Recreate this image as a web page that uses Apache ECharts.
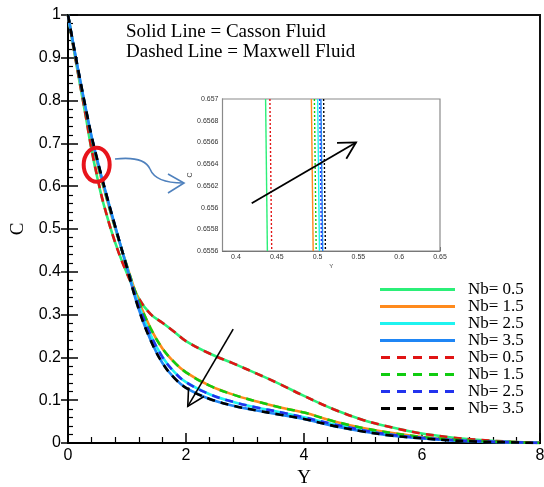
<!DOCTYPE html>
<html>
<head>
<meta charset="utf-8">
<script src="https://cdn.jsdelivr.net/npm/echarts@6/dist/echarts.min.js"></script>
<style>
  html, body { margin: 0; padding: 0; background: #fff; }
  #chart { width: 544px; height: 487px; }
</style>
</head>
<body>
<div id="chart"></div>
<script>
// Similarity variable Y shared by all concentration profiles
const yGrid = [0, 0.1, 0.2, 0.3, 0.4, 0.5, 0.6, 0.8, 1.0, 1.2, 1.4, 1.6, 1.8, 2.0, 2.4, 2.8, 3.2, 3.6, 4.0, 4.5, 5.0, 5.5, 6.0, 6.5, 7.0, 7.5, 8.0];

// Concentration C(Y), Casson fluid (solid lines)
const cassonNb05 = [1, 0.918, 0.840, 0.764, 0.684, 0.618, 0.560, 0.468, 0.396, 0.338, 0.301, 0.281, 0.260, 0.238, 0.209, 0.186, 0.162, 0.137, 0.110, 0.079, 0.054, 0.036, 0.022, 0.013, 0.007, 0.003, 0.0005];
const cassonNb15 = [1, 0.922, 0.848, 0.777, 0.711, 0.652, 0.599, 0.502, 0.413, 0.331, 0.268, 0.221, 0.189, 0.165, 0.134, 0.113, 0.097, 0.083, 0.071, 0.051, 0.035, 0.023, 0.014, 0.008, 0.004, 0.002, 0];
const cassonNb25 = [1, 0.924, 0.850, 0.780, 0.714, 0.657, 0.604, 0.505, 0.411, 0.322, 0.253, 0.201, 0.166, 0.142, 0.114, 0.096, 0.083, 0.072, 0.060, 0.044, 0.030, 0.019, 0.012, 0.007, 0.004, 0.002, 0];
const cassonNb35 = [1, 0.925, 0.852, 0.782, 0.716, 0.659, 0.606, 0.506, 0.409, 0.312, 0.240, 0.187, 0.152, 0.129, 0.103, 0.087, 0.076, 0.066, 0.056, 0.040, 0.027, 0.017, 0.011, 0.006, 0.003, 0.0015, 0];

// Concentration C(Y), Maxwell fluid (dashed lines)
const maxwellNb05 = [1, 0.918, 0.841, 0.765, 0.686, 0.620, 0.561, 0.468, 0.396, 0.338, 0.301, 0.281, 0.260, 0.238, 0.209, 0.186, 0.162, 0.137, 0.110, 0.079, 0.054, 0.036, 0.022, 0.013, 0.007, 0.003, 0.0005];
const maxwellNb15 = [1, 0.922, 0.849, 0.778, 0.712, 0.654, 0.600, 0.502, 0.413, 0.331, 0.268, 0.221, 0.189, 0.165, 0.134, 0.113, 0.097, 0.083, 0.071, 0.051, 0.035, 0.023, 0.014, 0.008, 0.004, 0.002, 0];
const maxwellNb25 = [1, 0.924, 0.851, 0.781, 0.715, 0.6585, 0.605, 0.505, 0.411, 0.322, 0.253, 0.201, 0.166, 0.142, 0.114, 0.096, 0.083, 0.072, 0.060, 0.044, 0.030, 0.019, 0.012, 0.007, 0.004, 0.002, 0];
const maxwellNb35 = [1, 0.925, 0.853, 0.783, 0.717, 0.661, 0.607, 0.506, 0.409, 0.312, 0.240, 0.187, 0.152, 0.129, 0.103, 0.087, 0.076, 0.066, 0.056, 0.040, 0.027, 0.017, 0.011, 0.006, 0.003, 0.0015, 0];

// Magnified window: Y where each profile passes C = insetC[0] and C = insetC[1]
const insetC = [0.657, 0.6556];
const insetCassonNb05 = [0.4363, 0.4385];
const insetCassonNb15 = [0.4924, 0.4946];
const insetCassonNb25 = [0.5001, 0.5023];
const insetCassonNb35 = [0.5041, 0.5063];
const insetMaxwellNb05 = [0.4416, 0.4438];
const insetMaxwellNb15 = [0.4961, 0.4983];
const insetMaxwellNb25 = [0.5026, 0.5048];
const insetMaxwellNb35 = [0.5074, 0.5096];

// Tick values
const nbValues = ['0.5', '1.5', '2.5', '3.5'];
const insetXTicks = [0.4, 0.45, 0.5, 0.55, 0.6, 0.65];
const insetXMinorTicks = [0.39, 0.41, 0.42, 0.43, 0.44, 0.46, 0.47, 0.48, 0.49, 0.51, 0.52, 0.53, 0.54, 0.56, 0.57, 0.58, 0.59, 0.61, 0.62, 0.63, 0.64];
const insetYTicks = [0.6556, 0.6558, 0.656, 0.6562, 0.6564, 0.6566, 0.6568, 0.657];
const insetYMinorTicks = [0.65565, 0.6557, 0.65575, 0.65585, 0.6559, 0.65595, 0.65605, 0.6561, 0.65615, 0.65625, 0.6563, 0.65635, 0.65645, 0.6565, 0.65655, 0.65665, 0.6567, 0.65675, 0.65685, 0.6569, 0.65695];

// Annotation anchors (data coordinates)
const focusCenter = [0.486, 0.65];
const mainArrow = { from: [2.80, 0.266], to: [2.03, 0.0855] };
const insetArrow = { from: [0.4193, 0.65604], to: [0.5471, 0.6566] };

const cassonColors = ['#2bef78', '#ff8a1c', '#1ff3f0', '#1f86f5'];
const maxwellColors = ['#e01414', '#10cc10', '#2233ee', '#000000'];

const cassonSets = [cassonNb05, cassonNb15, cassonNb25, cassonNb35];
const maxwellSets = [maxwellNb05, maxwellNb15, maxwellNb25, maxwellNb35];
const insetCassonSets = [insetCassonNb05, insetCassonNb15, insetCassonNb25, insetCassonNb35];
const insetMaxwellSets = [insetMaxwellNb05, insetMaxwellNb15, insetMaxwellNb25, insetMaxwellNb35];

const pair = (xs, ys) => xs.map((x, i) => [x, ys[i]]);
const fmt = v => String(+(+v).toFixed(5));

// Legend keys: solid bar and a five-dash bar
const solidIcon = 'path://M0,0h75v3h-75z';
const dashedIcon = 'path://M0,0h9v3h-9zM16,0h9v3h-9zM32,0h9v3h-9zM48,0h9v3h-9zM64,0h9v3h-9z';

const series = [];
const legendData = [];
nbValues.forEach((nb, i) => {
  const name = 'Casson ' + nb;
  legendData.push({ name, icon: solidIcon });
  series.push({
    name, type: 'line', xAxisIndex: 0, yAxisIndex: 0,
    data: pair(yGrid, cassonSets[i]),
    smooth: 0.4, symbol: 'none', z: 2,
    lineStyle: { color: cassonColors[i], width: 2.6 },
    itemStyle: { color: cassonColors[i] }
  });
});
nbValues.forEach((nb, i) => {
  const name = 'Maxwell ' + nb;
  legendData.push({ name, icon: dashedIcon });
  series.push({
    name, type: 'line', xAxisIndex: 0, yAxisIndex: 0,
    data: pair(yGrid, maxwellSets[i]),
    smooth: 0.4, symbol: 'none', z: 3,
    lineStyle: { color: maxwellColors[i], width: 2.6, type: [8, 6] },
    itemStyle: { color: maxwellColors[i] }
  });
});
// Magnified window series
nbValues.forEach((nb, i) => {
  series.push({
    name: 'Casson ' + nb, type: 'line', xAxisIndex: 1, yAxisIndex: 2,
    data: pair(insetCassonSets[i], insetC), symbol: 'none', z: 4,
    lineStyle: { color: cassonColors[i], width: 1.4 },
    itemStyle: { color: cassonColors[i] }
  });
});
nbValues.forEach((nb, i) => {
  series.push({
    name: 'Maxwell ' + nb, type: 'line', xAxisIndex: 1, yAxisIndex: 2,
    data: pair(insetMaxwellSets[i], insetC), symbol: 'none', z: 5,
    lineStyle: { color: maxwellColors[i], width: 1.4, type: [2, 2] },
    itemStyle: { color: maxwellColors[i] }
  });
});

const sans = '"Liberation Sans", Arial, sans-serif';
const serif = '"Liberation Serif", "Times New Roman", serif';

const insetRange = { xmin: 0.3835, xmax: 0.65 };

const option = {
  animation: false,
  backgroundColor: '#fff',
  grid: [
    { left: 68, top: 15, width: 472, height: 428, outerBoundsMode: 'none', containLabel: false, show: true, borderColor: '#111', borderWidth: 2, backgroundColor: 'transparent' },
    { left: 222.5, top: 99, width: 217.5, height: 152, outerBoundsMode: 'none', containLabel: false, show: true, borderColor: '#8a8a8a', borderWidth: 1.2, backgroundColor: '#fff', z: 3 }
  ],
  xAxis: [
    {
      gridIndex: 0, type: 'value', min: 0, max: 8, interval: 2,
      name: 'Y', nameLocation: 'middle', nameGap: 26,
      nameTextStyle: { fontFamily: serif, fontSize: 19, color: '#000' },
      axisLine: { show: true, lineStyle: { color: '#000', width: 2 } },
      axisTick: { show: true, inside: true, length: 10, lineStyle: { color: '#000', width: 1.5 } },
      minorTick: { show: true, splitNumber: 5, length: 6, lineStyle: { color: '#000', width: 1.2 } },
      axisLabel: { fontFamily: sans, fontSize: 16, color: '#000', margin: 5, formatter: fmt },
      splitLine: { show: false }
    },
    {
      gridIndex: 1, type: 'value', min: insetRange.xmin, max: insetRange.xmax,
      name: 'Y', nameLocation: 'middle', nameGap: 12,
      nameTextStyle: { fontFamily: sans, fontSize: 6, color: '#444' },
      axisLine: { show: true, lineStyle: { color: '#666', width: 1 } },
      axisTick: { show: true, inside: true, length: 4, customValues: insetXTicks, lineStyle: { color: '#555', width: 1 } },
      axisLabel: { fontFamily: sans, fontSize: 7, color: '#333', margin: 3, customValues: insetXTicks, formatter: fmt },
      splitLine: { show: false }
    },
    {
      gridIndex: 1, type: 'value', min: insetRange.xmin, max: insetRange.xmax,
      axisLine: { show: false },
      axisTick: { show: true, inside: true, length: 2, customValues: insetXMinorTicks, lineStyle: { color: '#777', width: 0.8 } },
      axisLabel: { show: false },
      splitLine: { show: false }
    }
  ],
  yAxis: [
    {
      gridIndex: 0, type: 'value', min: 0, max: 1, interval: 0.1, position: 'left',
      name: 'C', nameLocation: 'middle', nameGap: 37, nameRotate: 90,
      nameTextStyle: { fontFamily: serif, fontSize: 19, color: '#000' },
      axisLine: { show: true, lineStyle: { color: '#000', width: 2 } },
      axisTick: { show: true, inside: true, length: 10, lineStyle: { color: '#000', width: 1.5 } },
      minorTick: { show: true, splitNumber: 5, length: 5, lineStyle: { color: '#000', width: 1.2 } },
      axisLabel: { fontFamily: sans, fontSize: 16, color: '#000', margin: 7, formatter: fmt },
      splitLine: { show: false }
    },
    {
      gridIndex: 0, type: 'value', min: 0, max: 1, interval: 0.1, position: 'left',
      axisLine: { show: false },
      axisTick: { show: true, inside: false, length: 7, lineStyle: { color: '#000', width: 1.5 } },
      axisLabel: { show: false },
      splitLine: { show: false }
    },
    {
      gridIndex: 1, type: 'value', min: insetC[1], max: insetC[0], position: 'left',
      name: 'C', nameLocation: 'middle', nameGap: 24, nameRotate: 90,
      nameTextStyle: { fontFamily: sans, fontSize: 7, color: '#444' },
      axisLine: { show: true, lineStyle: { color: '#666', width: 1 } },
      axisTick: { show: true, inside: true, length: 4, customValues: insetYTicks, lineStyle: { color: '#555', width: 1 } },
      axisLabel: { fontFamily: sans, fontSize: 7, color: '#333', margin: 4, customValues: insetYTicks, formatter: fmt },
      splitLine: { show: false }
    },
    {
      gridIndex: 1, type: 'value', min: insetC[1], max: insetC[0], position: 'left',
      axisLine: { show: false },
      axisTick: { show: true, inside: true, length: 2, customValues: insetYMinorTicks, lineStyle: { color: '#777', width: 0.8 } },
      axisLabel: { show: false },
      splitLine: { show: false }
    }
  ],
  legend: {
    orient: 'vertical', left: 380, top: 281, padding: 0, data: legendData,
    itemWidth: 75, itemHeight: 3, itemGap: 0,
    selectedMode: false,
    formatter: name => 'Nb= ' + name.split(' ')[1],
    textStyle: { fontFamily: serif, fontSize: 17, color: '#000', lineHeight: 16.6, padding: [0, 0, 0, 8] }
  },
  series
};

const chart = echarts.init(document.getElementById('chart'), null, { renderer: 'canvas' });
chart.setOption(option);

// Annotations placed through the axes' own coordinate transforms
const mainPx = p => chart.convertToPixel({ xAxisIndex: 0, yAxisIndex: 0 }, p);
const insetPx = p => chart.convertToPixel({ xAxisIndex: 1, yAxisIndex: 2 }, p);

function openArrow(from, to, wing, angleDeg, color, width) {
  const bx = from[0] - to[0], by = from[1] - to[1];
  const len = Math.hypot(bx, by);
  const ux = bx / len, uy = by / len;
  const a = angleDeg * Math.PI / 180;
  const rot = s => [to[0] + wing * (ux * Math.cos(s * a) - uy * Math.sin(s * a)),
                    to[1] + wing * (ux * Math.sin(s * a) + uy * Math.cos(s * a))];
  return [
    { type: 'polyline', z: 20, shape: { points: [from, to] }, style: { stroke: color, lineWidth: width, fill: null } },
    { type: 'polyline', z: 20, shape: { points: [rot(1), to, rot(-1)] }, style: { stroke: color, lineWidth: width, fill: null } }
  ];
}

const fc = mainPx(focusCenter);
const connector = { stroke: '#4f81bd', lineWidth: 1.6, fill: null };
const graphics = [
  { type: 'text', z: 20, style: { text: 'Solid Line = Casson Fluid', x: 126, y: 32, font: '19px ' + serif, fill: '#000', verticalAlign: 'middle' } },
  { type: 'text', z: 20, style: { text: 'Dashed Line = Maxwell Fluid', x: 126, y: 52, font: '19px ' + serif, fill: '#000', verticalAlign: 'middle' } },
  { type: 'ellipse', z: 20, shape: { cx: fc[0], cy: fc[1], rx: 13, ry: 17 }, style: { stroke: '#e8141b', lineWidth: 4, fill: null } },
  { type: 'bezierCurve', z: 20, shape: { x1: 115, y1: 159, cpx1: 133, cpy1: 157, cpx2: 146, cpy2: 160, x2: 150, y2: 169 }, style: connector },
  { type: 'bezierCurve', z: 20, shape: { x1: 150, y1: 169, cpx1: 154, cpy1: 179, cpx2: 166, cpy2: 183, x2: 183, y2: 183 }, style: connector },
  { type: 'polyline', z: 20, shape: { points: [[168, 174], [184, 183], [168, 193]] }, style: connector }
];
graphics.push(...openArrow(mainPx(mainArrow.from), mainPx(mainArrow.to), 19, 28, '#000', 1.6));
graphics.push(...openArrow(insetPx(insetArrow.from), insetPx(insetArrow.to), 19, 29, '#000', 1.8));

chart.setOption({ graphic: graphics });
</script>
</body>
</html>
